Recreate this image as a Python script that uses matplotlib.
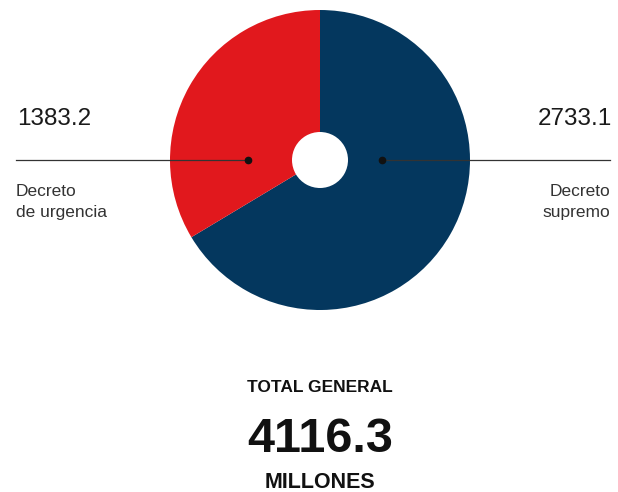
import matplotlib
matplotlib.use("Agg")
import matplotlib.pyplot as plt
from matplotlib import font_manager as fm

categories = ["Decreto\nsupremo", "Decreto\nde urgencia"]
values = [2733.1, 1383.2]
colors = ["#04375E", "#E1181D"]
total_label = "TOTAL GENERAL"
unit_label = "MILLONES"

names = {f.name for f in fm.fontManager.ttflist}
narrow = "Liberation Sans Narrow" if "Liberation Sans Narrow" in names else "Liberation Sans"
FAM = [narrow, "DejaVu Sans"]

W, H = 618, 492
fig = plt.figure(figsize=(W / 100, H / 100), dpi=100)
ax = fig.add_axes([0, 0, 1, 1])

cx, cy, R, r_in = 320, H - 160, 150, 28
ax.pie(values, colors=colors, startangle=90, counterclock=False,
       center=(cx, cy), radius=R, frame=True,
       wedgeprops=dict(width=R - r_in, linewidth=0))
ax.set_xlim(0, W)
ax.set_ylim(0, H)
ax.set_aspect("equal")
ax.axis("off")

XR = 610
# leader lines and dots
ax.plot([16, cx - 72], [cy, cy], color="#333333", lw=0.9, zorder=5)
ax.plot([cx + 62, XR], [cy, cy], color="#333333", lw=0.9, zorder=5)
ax.plot([cx - 72, cx + 62], [cy, cy], "o", color="#111111", ms=4.5, zorder=6)

# labels
ax.text(17, H - 119, f"{values[1]:.1f}", family=FAM, fontsize=17.5, ha="left", va="center", color="#1a1a1a")
ax.text(XR + 2, H - 119, f"{values[0]:.1f}", family=FAM, fontsize=17.5, ha="right", va="center", color="#1a1a1a")
ax.text(16, H - 202, categories[1], family=FAM, fontsize=12.5, ha="left", va="center",
        color="#333333", linespacing=1.45)
ax.text(XR, H - 202, categories[0], family=FAM, fontsize=12.5, ha="right", va="center",
        color="#333333", linespacing=1.45, multialignment="right")

ax.text(320, H - 388, total_label, family=FAM, fontsize=12.5, weight="bold", ha="center", va="center", color="#111111")
ax.text(320, H - 440, f"{sum(values):.1f}", family=FAM, fontsize=35, weight="bold", ha="center", va="center", color="#111111")
ax.text(320, H - 483, unit_label, family=FAM, fontsize=15.5, weight="bold", ha="center", va="center", color="#111111")

fig.savefig("out.png", dpi=100, facecolor="white")
